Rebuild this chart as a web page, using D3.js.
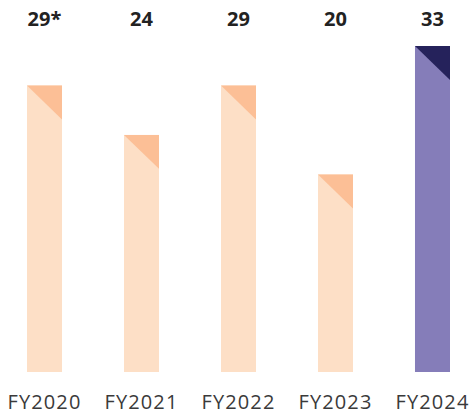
<!DOCTYPE html>
<html>
<head>
<meta charset="utf-8">
<script src="https://cdn.jsdelivr.net/npm/d3@7"></script>
<style>
  html, body { margin: 0; padding: 0; background: #fff; }
  svg { display: block; }
</style>
</head>
<body>
<svg id="chart" width="470" height="417"></svg>
<script>
// Fiscal years and their values
const years = ["FY2020", "FY2021", "FY2022", "FY2023", "FY2024"];
const values = [29, 24, 29, 20, 33];
const valueLabels = ["29*", "24", "29", "20", "33"];
const highlightYear = "FY2024";

const svg = d3.select("#chart");

const x = d3.scaleBand()
  .domain(years)
  .range([27, 450])
  .paddingInner(0.639)
  .paddingOuter(0);

const y = d3.scaleLinear()
  .domain([0, 33])
  .range([372, 46]);

const fillBody = d => d === highlightYear ? "#857db9" : "#fddfc6";
const fillCorner = d => d === highlightYear ? "#25225b" : "#fcbf96";

const data = years.map((yr, i) => ({ yr, v: values[i], label: valueLabels[i] }));

const g = svg.append("g");

// bar bodies
g.selectAll("rect.bar")
  .data(data)
  .join("rect")
  .attr("class", "bar")
  .attr("x", d => x(d.yr))
  .attr("y", d => y(d.v))
  .attr("width", x.bandwidth())
  .attr("height", d => y(0) - y(d.v))
  .attr("fill", d => fillBody(d.yr));

// darker corner triangle at the top of each bar
g.selectAll("path.corner")
  .data(data)
  .join("path")
  .attr("class", "corner")
  .attr("d", d => {
    const x0 = x(d.yr), x1 = x0 + x.bandwidth(), t = y(d.v);
    return `M${x0},${t}L${x1},${t}L${x1},${t + x.bandwidth() * 0.97}Z`;
  })
  .attr("fill", d => fillCorner(d.yr));

// value labels across the top
g.selectAll("text.val")
  .data(data)
  .join("text")
  .attr("class", "val")
  .attr("x", d => x(d.yr) + x.bandwidth() / 2)
  .attr("y", 26)
  .attr("text-anchor", "middle")
  .attr("font-family", "'Open Sans', sans-serif")
  .attr("font-weight", 700)
  .attr("font-size", 20)
  .attr("fill", "#222")
  .text(d => d.label);

// category axis
const axis = d3.axisBottom(x).tickSize(0).tickPadding(0);
const ax = svg.append("g")
  .attr("transform", `translate(0,${y(0)})`)
  .call(axis);
ax.select(".domain").remove();
ax.selectAll("text")
  .attr("y", 37)
  .attr("dy", 0)
  .attr("font-family", "'Open Sans', sans-serif")
  .attr("font-size", 20)
  .attr("letter-spacing", 1.1)
  .attr("fill", "#3a3a3a");
</script>
</body>
</html>
